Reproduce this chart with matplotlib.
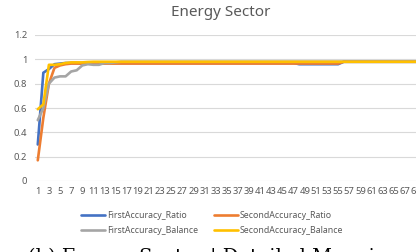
import numpy as np
import matplotlib
matplotlib.use("Agg")
import matplotlib.pyplot as plt

# category index 1..70
x = np.arange(1, 71)

first_ratio = ([0.30, 0.89, 0.92, 0.96, 0.965, 0.97, 0.97, 0.97, 0.965, 0.97]
               + [0.97] * 37 + [0.96] * 8 + [0.98] * 15)
second_ratio = ([0.17, 0.52, 0.80, 0.93, 0.95, 0.96, 0.965, 0.965, 0.965, 0.965]
                + [0.965] * 45 + [0.98] * 15)
first_balance = ([0.50, 0.60, 0.80, 0.85, 0.86, 0.86, 0.90, 0.91, 0.95, 0.96]
                 + [0.955, 0.955, 0.97, 0.97, 0.975] + [0.98] * 55)
second_balance = ([0.59, 0.63, 0.955, 0.955, 0.96, 0.97, 0.975, 0.975, 0.975, 0.978]
                  + [0.98] * 60)

series = [
    ("FirstAccuracy_Ratio", first_ratio, "#4472C4"),
    ("SecondAccuracy_Ratio", second_ratio, "#ED7D31"),
    ("FirstAccuracy_Balance", first_balance, "#A5A5A5"),
    ("SecondAccuracy_Balance", second_balance, "#FFC000"),
]

yticks = [0, 0.2, 0.4, 0.6, 0.8, 1, 1.2]
ytick_labels = ["0", "0.2", "0.4", "0.6", "0.8", "1", "1.2"]

plt.rcParams['font.family'] = ['Noto Sans', 'DejaVu Sans']
txt = "#595959"

W, H = 416, 252
fig = plt.figure(figsize=(W / 100, H / 100), dpi=100)
ax = fig.add_axes([35 / W, 1 - 181 / H, (W - 35) / W, 146 / H])

lines = {}
for name, vals, col in series:
    lines[name], = ax.plot(x, vals, color=col, lw=1.9, label=name,
                           solid_joinstyle="round", solid_capstyle="round")

ax.set_xlim(0.5, 0.5 + (W - 35) / 5.68)
ax.set_ylim(0, 1.2)
ax.set_yticks(yticks)
ax.set_yticklabels(ytick_labels)
ax.set_xticks(x[::2])
ax.set_xticklabels([str(v) for v in x[::2]])
ax.tick_params(length=0, labelsize=6.8, colors=txt)
ax.tick_params(axis="y", pad=5.5)
ax.tick_params(axis="x", pad=4)
ax.grid(axis="y", color="#D9D9D9", lw=0.8)
ax.set_axisbelow(True)
for s in ax.spines.values():
    s.set_visible(False)

fig.text(221 / W, 1 - 12 / H, "Energy Sector", ha="center", va="center",
         fontsize=11, color=txt)

order = ["FirstAccuracy_Ratio", "FirstAccuracy_Balance",
         "SecondAccuracy_Ratio", "SecondAccuracy_Balance"]
fig.legend([lines[n] for n in order], order, ncol=2, frameon=False,
           loc="center left", bbox_to_anchor=(73 / W, 1 - 223 / H),
           fontsize=6.3, labelcolor=txt, handlelength=2.8, handletextpad=0.15,
           columnspacing=1.8, labelspacing=0.75)

fig.text(214 / W, 1 - 262 / H, "(b) Energy Sector | Detailed Mapping",
         ha="center", va="baseline", fontsize=14, family="DejaVu Serif",
         color="black")

fig.savefig("out.png", dpi=100)
